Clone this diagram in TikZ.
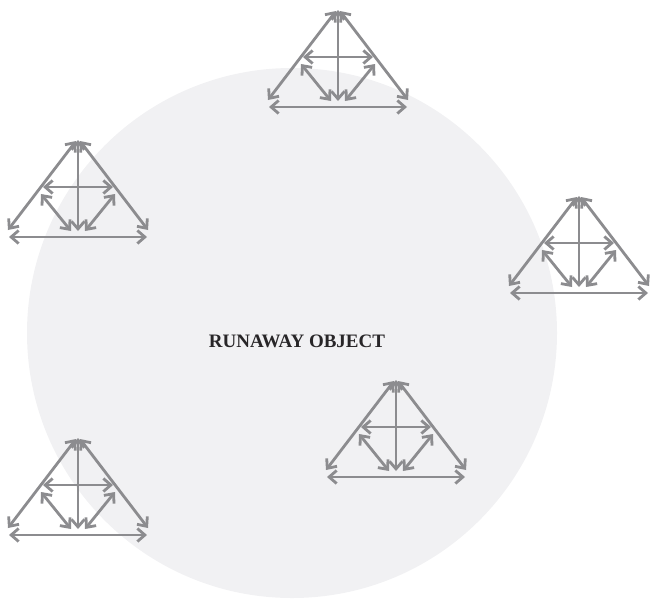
\documentclass[tikz,border=0pt]{standalone}
\usepackage{fontspec}
\setmainfont{Liberation Serif}
\usetikzlibrary{arrows.meta}
\definecolor{strut}{RGB}{140,140,143}
\definecolor{disc}{RGB}{241,241,243}
\definecolor{ink}{RGB}{40,38,40}
\tikzset{
  link/.style={draw=strut, line width=2.8pt,
    {Straight Barb[length=7.5pt,width=13pt]}-{Straight Barb[length=7.5pt,width=13pt]}},
  tri/.pic={
    \coordinate (-a)  at (0,0);
    \coordinate (-al) at (-2,1);
    \coordinate (-ar) at (2,1);
    \coordinate (-bl) at (-70,90);
    \coordinate (-br) at (70,90);
    \coordinate (-m)  at (0,91);
    \coordinate (-fl) at (-69,97);
    \coordinate (-fr) at (69,97);
    \coordinate (-hl) at (-35,47);
    \coordinate (-hr) at (35,47);
    \coordinate (-il) at (-37,54);
    \coordinate (-ir) at (37,54);
    \coordinate (-jl) at (-7,91);
    \coordinate (-jr) at (7,91);
    \draw[link] (-al) -- (-bl);
    \draw[link] (-ar) -- (-br);
    \draw[link] (-a) -- (-m);
    \draw[link] (-fl) -- (-fr);
    \draw[link] (-hl) -- (-hr);
    \draw[link] (-il) -- (-jl);
    \draw[link] (-ir) -- (-jr);
  }
}
\begin{document}
\begin{tikzpicture}[x=1pt,y=-1pt]
  \useasboundingbox (0,0) rectangle (650,600);
  \fill[disc] (292,333) circle[radius=265];
  \node[font=\bfseries\fontsize{19}{22}\selectfont, text=ink, inner sep=0pt] (title) at (297,341) {RUNAWAY OBJECT};
  \pic (t1) at (338,10) {tri};
  \pic (t2) at (78,140) {tri};
  \pic (t3) at (579,196) {tri};
  \pic (t4) at (396,380) {tri};
  \pic (t5) at (78,438) {tri};
\end{tikzpicture}
\end{document}
